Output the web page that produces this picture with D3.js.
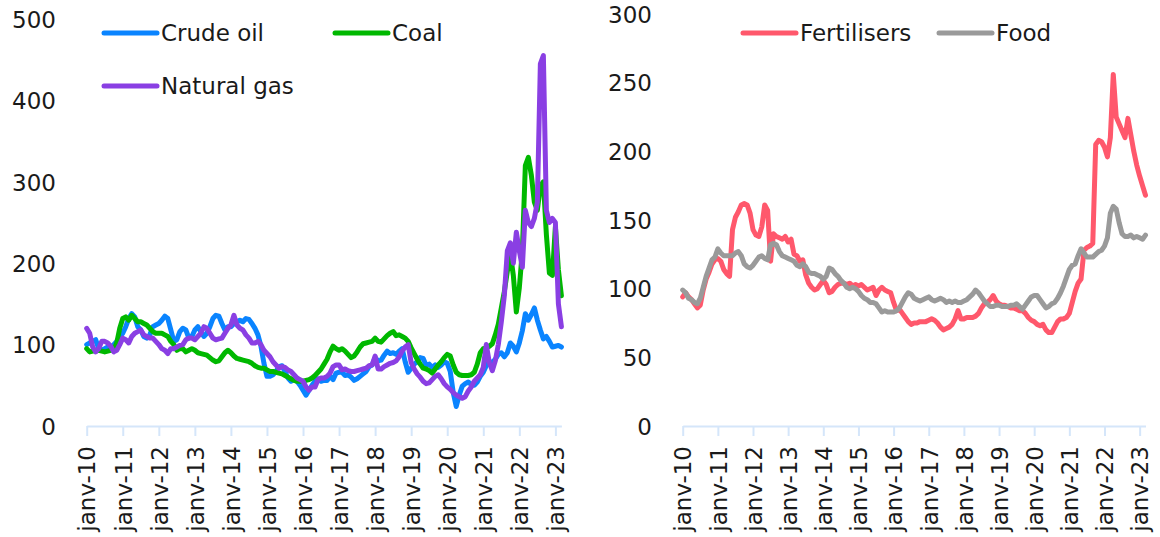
<!DOCTYPE html>
<html><head><meta charset="utf-8">
<script src="https://cdn.jsdelivr.net/npm/d3@7"></script>
<style>
body{margin:0;background:#fff}
svg{display:block}
text{font-family:"DejaVu Sans",sans-serif;font-size:23px;fill:#1a1a1a}
</style>
</head><body>
<svg id="chart" width="1160" height="537"></svg>
<script>
// ---- data (monthly, Jan 2010 .. Mar 2023) ----
const yearLabels = ["janv-10","janv-11","janv-12","janv-13","janv-14","janv-15","janv-16",
  "janv-17","janv-18","janv-19","janv-20","janv-21","janv-22","janv-23"];
const leftTicks = [0,100,200,300,400,500];
const rightTicks = [0,50,100,150,200,250,300];

const crudeOil = [
 100,102,104,106,95,93,95,97,95,100,104,110,
 114,122,132,138,134,122,118,110,108,112,122,124,
 126,130,135,132,118,104,106,116,120,118,108,110,
 118,122,116,110,114,122,132,136,135,126,118,122,
 122,126,128,130,128,132,131,126,120,112,98,77,
 61,61,63,67,73,74,67,59,55,57,55,50,
 44,38,44,50,55,58,55,56,56,61,57,65,
 66,66,62,63,60,56,58,61,64,67,73,75,
 84,80,81,87,92,89,90,88,92,95,79,66,
 71,76,79,84,83,74,76,72,75,72,75,79,
 77,67,41,24,38,49,52,54,51,50,54,61,
 66,74,79,78,82,88,90,85,90,102,98,91,
 102,117,138,130,137,145,130,118,107,110,104,97,
 98,99,97];
const coal = [
 95,91,92,92,93,92,91,92,93,93,102,120,
 132,134,130,136,132,128,128,126,124,120,116,114,
 114,114,112,110,104,100,93,95,95,91,93,95,
 93,90,89,88,87,84,81,79,80,85,90,93,
 90,86,83,82,81,80,79,77,74,72,71,71,
 69,67,67,66,65,64,62,60,58,56,55,55,
 55,56,57,59,62,66,70,76,82,91,98,95,
 93,95,92,88,84,86,91,97,101,102,103,104,
 108,104,103,107,111,114,116,111,112,110,108,104,
 96,89,82,76,71,70,68,65,70,75,79,84,
 88,86,75,66,63,62,62,62,63,66,76,90,
 95,96,98,101,112,125,145,165,190,212,185,140,
 170,215,320,330,308,275,265,295,300,235,188,185,
 245,192,160];
const naturalGas = [
 120,114,97,91,95,104,104,102,98,91,93,100,
 108,106,102,110,114,116,118,112,110,108,108,104,
 100,95,93,89,95,95,97,99,100,106,108,108,
 106,110,114,122,120,114,108,106,107,108,114,120,
 124,136,124,120,118,112,108,102,102,104,100,93,
 89,85,79,75,71,73,72,69,67,63,59,57,
 55,48,44,48,48,57,59,59,61,65,73,75,
 75,69,70,68,67,67,68,69,70,71,74,75,
 86,70,70,73,75,77,78,80,85,92,97,100,
 78,70,64,60,55,52,53,57,61,63,58,52,
 48,45,41,38,36,34,36,43,48,55,59,63,
 72,100,78,68,80,100,128,160,215,225,200,238,
 215,195,265,250,245,255,275,445,455,265,250,255,
 250,150,122];
const fertilisers = [
 94,97,94,92,89,86,88,99,107,112,118,121,
 122,120,114,111,109,143,152,156,161,162,161,155,
 143,139,138,145,161,157,120,140,138,137,136,138,
 134,136,125,124,120,121,110,104,101,99,100,103,
 106,103,97,98,101,103,104,104,103,104,102,103,
 102,103,101,99,100,101,95,99,101,99,98,97,
 90,84,85,82,79,76,74,75,75,76,76,76,
 77,78,77,75,72,70,71,72,74,78,84,78,
 78,79,79,79,80,82,86,89,90,92,95,91,
 89,88,88,87,86,86,85,84,84,82,79,77,
 76,74,73,74,70,68,68,72,76,78,78,79,
 82,90,98,104,107,128,130,131,133,205,208,207,
 203,196,210,256,225,220,215,210,224,212,200,190,
 182,175,168];
const food = [
 99,97,93,92,90,89,93,101,109,115,121,123,
 129,126,124,124,124,124,126,127,124,118,116,115,
 117,120,123,124,122,121,132,133,132,127,124,123,
 122,121,120,117,116,118,116,112,111,111,110,109,
 107,109,115,114,111,109,106,104,101,100,101,100,
 98,95,93,92,90,90,89,86,83,84,83,83,
 83,84,86,90,94,97,96,93,92,91,92,93,
 94,92,91,92,93,92,90,91,90,91,90,90,
 91,92,94,96,99,97,94,91,89,87,87,88,
 88,87,87,87,88,88,89,87,85,88,91,94,
 95,95,92,89,86,87,89,90,93,97,102,108,
 114,117,118,124,129,126,123,123,123,125,127,128,
 131,137,155,160,158,148,140,138,138,139,137,138,
 137,136,139];

const seriesLeft = [
  {name:"Crude oil", values:crudeOil, color:"#0a84ff"},
  {name:"Coal", values:coal, color:"#00b800"},
  {name:"Natural gas", values:naturalGas, color:"#8a3fe3"}
];
const seriesRight = [
  {name:"Fertilisers", values:fertilisers, color:"#ff586c"},
  {name:"Food", values:food, color:"#9a9a9a"}
];

// ---- drawing ----
const svg = d3.select("#chart");
const AXIS_COLOR = "#d5e6fa";

function panel(opt){
  const n = opt.series[0].values.length;
  const x = d3.scaleLinear().domain([0, n-1]).range([opt.x0, opt.x1]);
  const y = d3.scaleLinear().domain([0, opt.ymax]).range([opt.yBottom, opt.yTop]);
  const g = svg.append("g");

  // y labels
  const ya = g.append("g").attr("transform", `translate(${opt.labelX},0)`)
    .call(d3.axisLeft(y).tickValues(opt.yTicks).tickSize(0).tickPadding(0));
  ya.select(".domain").remove();
  ya.selectAll("text").attr("fill","#1a1a1a").style("font-size","23px")
    .style("font-family","DejaVu Sans, sans-serif").attr("dy","0.36em");

  // x axis
  const monthTicks = d3.range(0, n, 12);
  const xa = g.append("g").attr("transform", `translate(0,${opt.yBottom})`)
    .call(d3.axisBottom(x).tickValues(monthTicks)
      .tickFormat((d,i)=>yearLabels[i]).tickSize(10).tickSizeOuter(0));
  xa.select(".domain").attr("stroke", AXIS_COLOR).attr("stroke-width", 2);
  xa.selectAll(".tick line").attr("stroke", AXIS_COLOR).attr("stroke-width", 2);
  xa.selectAll(".tick text")
    .attr("fill","#1a1a1a").style("font-size","23px").style("font-family","DejaVu Sans, sans-serif")
    .attr("text-anchor","end").attr("transform","rotate(-90)")
    .attr("x",-20).attr("y",0).attr("dy","0.36em");

  // lines
  const line = d3.line().x((d,i)=>x(i)).y(d=>y(d));
  opt.series.forEach(s=>{
    g.append("path").datum(s.values).attr("d", line)
      .attr("fill","none").attr("stroke", s.color).attr("stroke-width", 5)
      .attr("stroke-linejoin","round").attr("stroke-linecap","round");
  });

  // legend
  opt.legend.forEach((p,i)=>{
    const s = opt.series[i];
    g.append("line").attr("x1",p[0]).attr("x2",p[0]+53).attr("y1",p[1]).attr("y2",p[1])
      .attr("stroke", s.color).attr("stroke-width",5).attr("stroke-linecap","round");
    g.append("text").attr("x",p[0]+57).attr("y",p[1]).attr("dy","0.36em").text(s.name);
  });
}

panel({series:seriesLeft, x0:86.7, x1:561.4, yBottom:426, yTop:19, ymax:500,
  yTicks:leftTicks, labelX:56, legend:[[104,33],[335,33],[104,86]]});
panel({series:seriesRight, x0:682.7, x1:1145.5, yBottom:426, yTop:14, ymax:300,
  yTicks:rightTicks, labelX:652, legend:[[743,33],[939,33]]});
</script>
</body></html>
